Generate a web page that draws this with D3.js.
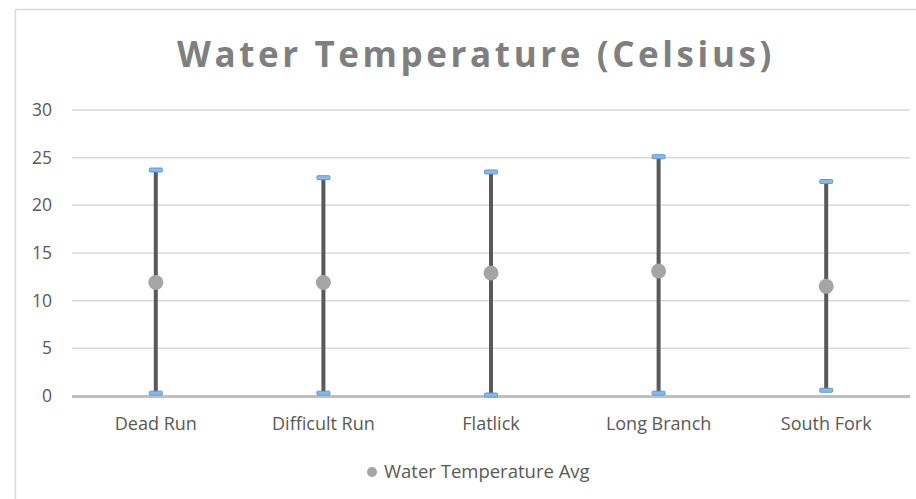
<!DOCTYPE html>
<head>
    <meta charset="utf-8">
    <title>Water Temperature (Celsius)</title>
    <style>
        body { margin: 0; background: #fff; }
        text { font-family: "Open Sans", sans-serif; }
    </style>
</head>
<body>

<svg width="916" height="499"></svg>

<script src="https://d3js.org/d3.v7.min.js"></script>

<script>

    // data
    var sites = ["Dead Run", "Difficult Run", "Flatlick", "Long Branch", "South Fork"];
    var tempAvg = [11.9, 11.9, 12.9, 13.1, 11.5];
    var tempMin = [0.3, 0.3, 0.1, 0.3, 0.6];
    var tempMax = [23.7, 22.9, 23.5, 25.1, 22.5];
    var yTicks = [0, 5, 10, 15, 20, 25, 30];

    var svg = d3.select("svg");

    var margin = {left: 72, right: 6, top: 110, bottom: 103};
    var width = 916, height = 499;

    // chart area border
    svg.append("rect")
        .attr("x", 15.5).attr("y", 9.5)
        .attr("width", 920).attr("height", 500)
        .attr("fill", "none")
        .attr("stroke", "#d9d9d9")
        .attr("stroke-width", 1.5);

    var x = d3.scaleBand()
        .domain(sites)
        .range([margin.left, width - margin.right]);

    var y = d3.scaleLinear()
        .domain([0, 30])
        .range([height - margin.bottom, margin.top]);

    // title
    svg.append("text")
        .attr("x", 476).attr("y", 67)
        .attr("text-anchor", "middle")
        .attr("fill", "#7f7f7f")
        .style("font-size", "35px")
        .style("font-weight", "bold")
        .style("letter-spacing", "3.6px")
        .text("Water Temperature (Celsius)");

    // gridlines
    svg.append("g")
        .selectAll("line")
        .data(yTicks.filter(function(d) { return d > 0; }))
        .enter().append("line")
            .attr("x1", margin.left).attr("x2", width - margin.right)
            .attr("y1", function(d) { return y(d); })
            .attr("y2", function(d) { return y(d); })
            .attr("stroke", "#d9d9d9")
            .attr("stroke-width", 1.5);

    // y axis labels
    var yAxis = d3.axisLeft(y).tickValues(yTicks).tickSize(0).tickPadding(20);
    var gy = svg.append("g")
        .attr("transform", "translate(" + margin.left + ",0)")
        .call(yAxis);
    gy.select(".domain").remove();
    gy.selectAll("text")
        .attr("fill", "#595959")
        .style("font-size", "17.5px");

    // x axis
    var xAxis = d3.axisBottom(x).tickSize(0).tickPadding(21);
    var gx = svg.append("g")
        .attr("transform", "translate(0," + y(0) + ")")
        .call(xAxis);
    gx.select(".domain").remove();
    gx.selectAll("text")
        .attr("fill", "#595959")
        .style("font-size", "18px");

    svg.append("line")
        .attr("x1", margin.left).attr("x2", width - margin.right)
        .attr("y1", y(0) + 0.5).attr("y2", y(0) + 0.5)
        .attr("stroke", "#bfbfbf")
        .attr("stroke-width", 3);

    var cx = function(i) { return x(sites[i]) + x.bandwidth() / 2; };

    // error bars
    var bars = svg.append("g")
        .selectAll("g")
        .data(sites)
        .enter().append("g");

    bars.append("line")
        .attr("x1", function(d, i) { return cx(i); })
        .attr("x2", function(d, i) { return cx(i); })
        .attr("y1", function(d, i) { return y(tempMin[i]); })
        .attr("y2", function(d, i) { return y(tempMax[i]); })
        .attr("stroke", "#595959")
        .attr("stroke-width", 4);

    // caps
    [tempMin, tempMax].forEach(function(arr) {
        bars.append("rect")
            .attr("x", function(d, i) { return cx(i) - 6.5; })
            .attr("y", function(d, i) { return y(arr[i]) - 2; })
            .attr("width", 13).attr("height", 4)
            .attr("rx", 1)
            .attr("fill", "#8fb8e6")
            .attr("stroke", "#5b9bd5")
            .attr("stroke-width", 1);
    });

    // avg markers
    bars.append("circle")
        .attr("cx", function(d, i) { return cx(i); })
        .attr("cy", function(d, i) { return y(tempAvg[i]); })
        .attr("r", 7.5)
        .attr("fill", "#a5a5a5");

    // legend
    var legend = svg.append("g");
    legend.append("circle")
        .attr("cx", 372).attr("cy", 472)
        .attr("r", 5)
        .attr("fill", "#a5a5a5");
    legend.append("text")
        .attr("x", 384).attr("y", 478)
        .attr("fill", "#595959")
        .style("font-size", "18.5px")
        .text("Water Temperature Avg");

</script>
</body>
